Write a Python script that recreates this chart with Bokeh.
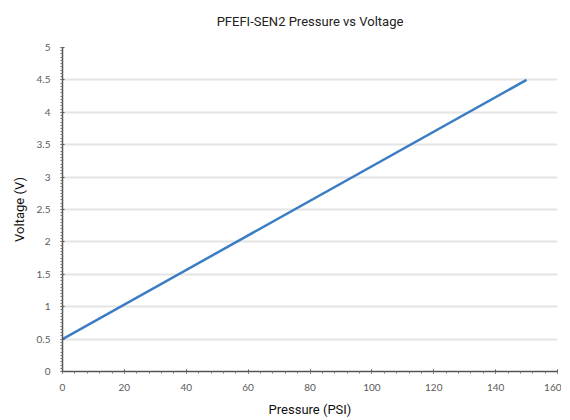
from bokeh.plotting import figure
from bokeh.models import FixedTicker, Range1d
from bokeh.embed import file_html
from bokeh.resources import INLINE

pressure_psi = [0, 150]
voltage_v = [0.5, 4.5]
x_ticks = [0, 20, 40, 60, 80, 100, 120, 140, 160]
y_ticks = [0, 0.5, 1, 1.5, 2, 2.5, 3, 3.5, 4, 4.5, 5]
x_minor = [i * 4 for i in range(41)]
y_minor = [i * 0.05 for i in range(101)]

p = figure(frame_width=495, frame_height=324, output_backend="svg", toolbar_location=None,
           x_range=Range1d(0, 160), y_range=Range1d(0, 5),
           title="PFEFI-SEN2 Pressure vs Voltage",
           min_border_left=0, min_border_right=4, min_border_top=0, min_border_bottom=0)
p.margin = (-7, 0, 0, 8)

p.line(pressure_psi, voltage_v, line_color="#3b7dc4", line_width=2.5)

p.title.align = "center"
p.title.text_font = "Roboto"
p.title.text_font_size = "13px"
p.title.text_font_style = "normal"
p.title.text_color = "#222222"
p.title.standoff = 37

p.outline_line_color = None
p.xgrid.grid_line_color = None
p.ygrid.grid_line_color = "#e4e4e4"
p.ygrid.grid_line_width = 2

p.xaxis.ticker = FixedTicker(ticks=x_ticks, minor_ticks=x_minor)
p.yaxis.ticker = FixedTicker(ticks=y_ticks, minor_ticks=y_minor)

for ax in (p.xaxis, p.yaxis):
    ax.axis_line_color = "#555555"
    ax.axis_line_width = 1.5
    ax.major_tick_line_color = "#555555"
    ax.minor_tick_line_color = "#777777"
    ax.major_tick_in = 2
    ax.major_tick_out = 2
    ax.minor_tick_in = 0
    ax.minor_tick_out = 2
    ax.major_label_text_font = "Lato"
    ax.major_label_text_font_size = "10px"
    ax.major_label_text_color = "#5a5a5a"
    ax.axis_label_text_font = "Roboto"
    ax.axis_label_text_font_size = "13px"
    ax.axis_label_text_font_style = "normal"
    ax.axis_label_text_color = "#111111"

p.xaxis.axis_label = "Pressure (PSI)"
p.yaxis.axis_label = "Voltage (V)"
p.xaxis.major_label_standoff = 10
p.yaxis.major_label_standoff = 10
p.xaxis.axis_label_standoff = 8
p.yaxis.axis_label_standoff = 7

open("out.html", "w").write(file_html(p, INLINE))
